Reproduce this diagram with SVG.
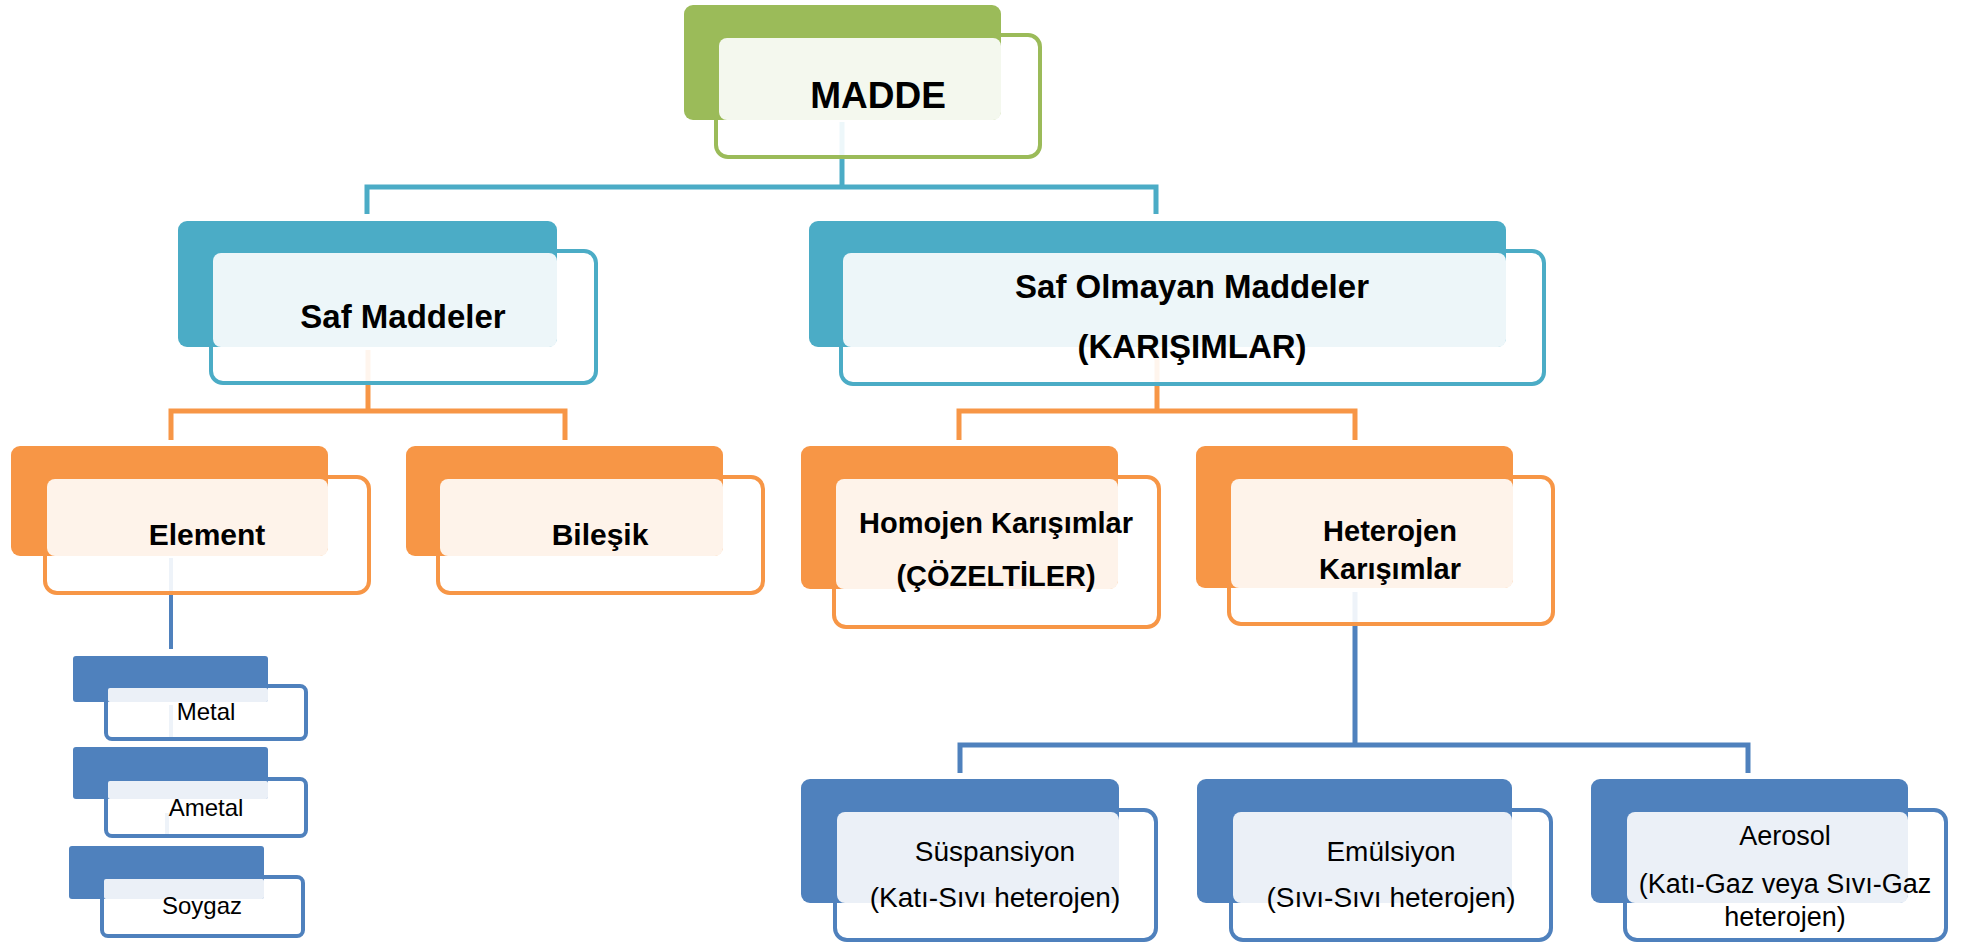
<svg xmlns="http://www.w3.org/2000/svg" width="1961" height="948" viewBox="0 0 1961 948">
<style>
.bg{fill:#ffffff}
.front{fill:#ffffff;fill-opacity:0.9;stroke-width:4}
.g .back{fill:#9bbb59}.g .front{stroke:#9bbb59}.g .tint{fill:#f4f8ee}
.t .back{fill:#4bacc6}.t .front{stroke:#4bacc6}.t .tint{fill:#edf6f9}
.o .back{fill:#f79646}.o .front{stroke:#f79646}.o .tint{fill:#fef3ea}
.b .back{fill:#4f81bd}.b .front{stroke:#4f81bd}.b .tint{fill:#ebf0f7}
.lbl{font-family:"Liberation Sans",Arial,sans-serif;font-weight:bold;fill:#000;text-anchor:middle}
.lbn{font-family:"Liberation Sans",Arial,sans-serif;fill:#000;text-anchor:middle}
.ct{stroke:#4bacc6;stroke-width:5;fill:none}
.co{stroke:#f79646;stroke-width:5;fill:none}
.cb{stroke:#4f81bd;stroke-width:5;fill:none}
.cb4{stroke:#4f81bd;stroke-width:4;fill:none}
</style>
<rect class="bg" x="0" y="0" width="1961" height="948"/>
<g id="connectors">
<polyline class="ct" points="842,122 842,187"/>
<polyline class="ct" points="367,214 367,187 1156,187 1156,214"/>
<polyline class="co" points="368,350 368,411"/>
<polyline class="co" points="171,440 171,411 565,411 565,440"/>
<polyline class="co" points="1157,350 1157,411"/>
<polyline class="co" points="959,440 959,411 1355,411 1355,440"/>
<polyline class="cb" points="1355,592 1355,745"/>
<polyline class="cb" points="960,773 960,745 1748,745 1748,773"/>
<polyline class="cb4" points="171,558 171,649"/>
<polyline class="cb4" points="171,705 171,741"/>
<polyline class="cb4" points="167,813 167,838"/>
</g>
<g id="madde" class="g">
<rect class="front" x="716" y="35" width="324" height="122" rx="12"/>
<rect class="back" x="684" y="5" width="317" height="115" rx="9"/>
<rect class="tint" x="719" y="38" width="282" height="82" rx="8"/>
<text class="lbl" x="878" y="108" font-size="37">MADDE</text>
</g>
<g id="saf-maddeler" class="t">
<rect class="front" x="211" y="251" width="385" height="132" rx="12"/>
<rect class="back" x="178" y="221" width="379" height="126" rx="9"/>
<rect class="tint" x="213" y="253" width="344" height="94" rx="8"/>
<text class="lbl" x="403" y="328" font-size="33">Saf Maddeler</text>
</g>
<g id="saf-olmayan" class="t">
<rect class="front" x="841" y="251" width="703" height="133" rx="12"/>
<rect class="back" x="809" y="221" width="697" height="126" rx="9"/>
<rect class="tint" x="843" y="253" width="663" height="94" rx="8"/>
<text class="lbl" x="1192" y="298" font-size="33">Saf Olmayan Maddeler</text>
<text class="lbl" x="1192" y="358" font-size="33">(KARIŞIMLAR)</text>
</g>
<g id="element" class="o">
<rect class="front" x="45" y="477" width="324" height="116" rx="12"/>
<rect class="back" x="11" y="446" width="317" height="110" rx="9"/>
<rect class="tint" x="47" y="479" width="281" height="77" rx="8"/>
<text class="lbl" x="207" y="545" font-size="30">Element</text>
</g>
<g id="bilesik" class="o">
<rect class="front" x="438" y="477" width="325" height="116" rx="12"/>
<rect class="back" x="406" y="446" width="317" height="110" rx="9"/>
<rect class="tint" x="440" y="479" width="283" height="77" rx="8"/>
<text class="lbl" x="600" y="545" font-size="30">Bileşik</text>
</g>
<g id="homojen" class="o">
<rect class="front" x="834" y="477" width="325" height="150" rx="12"/>
<rect class="back" x="801" y="446" width="317" height="143" rx="9"/>
<rect class="tint" x="836" y="479" width="282" height="110" rx="8"/>
<text class="lbl" x="996" y="533" font-size="29">Homojen Karışımlar</text>
<text class="lbl" x="996" y="586" font-size="29">(ÇÖZELTİLER)</text>
</g>
<g id="heterojen" class="o">
<rect class="front" x="1229" y="477" width="324" height="147" rx="12"/>
<rect class="back" x="1196" y="446" width="317" height="142" rx="9"/>
<rect class="tint" x="1231" y="479" width="282" height="109" rx="8"/>
<text class="lbl" x="1390" y="541" font-size="29">Heterojen</text>
<text class="lbl" x="1390" y="579" font-size="29">Karışımlar</text>
</g>
<g id="metal" class="b">
<rect class="front" x="106" y="686" width="200" height="53" rx="6"/>
<rect class="back" x="73" y="656" width="195" height="46" rx="3"/>
<rect class="tint" x="108" y="688" width="160" height="14" rx="2"/>
<text class="lbn" x="206" y="720" font-size="24">Metal</text>
</g>
<g id="ametal" class="b">
<rect class="front" x="106" y="779" width="200" height="57" rx="6"/>
<rect class="back" x="73" y="747" width="195" height="52" rx="3"/>
<rect class="tint" x="108" y="781" width="160" height="18" rx="2"/>
<text class="lbn" x="206" y="816" font-size="24">Ametal</text>
</g>
<g id="soygaz" class="b">
<rect class="front" x="102" y="877" width="201" height="59" rx="6"/>
<rect class="back" x="69" y="846" width="195" height="53" rx="3"/>
<rect class="tint" x="104" y="879" width="160" height="20" rx="2"/>
<text class="lbn" x="202" y="914" font-size="24">Soygaz</text>
</g>
<g id="suspansiyon" class="b">
<rect class="front" x="835" y="810" width="321" height="130" rx="12"/>
<rect class="back" x="801" y="779" width="318" height="124" rx="9"/>
<rect class="tint" x="837" y="812" width="282" height="91" rx="8"/>
<text class="lbn" x="995" y="861" font-size="28">Süspansiyon</text>
<text class="lbn" x="995" y="907" font-size="28">(Katı-Sıvı heterojen)</text>
</g>
<g id="emulsiyon" class="b">
<rect class="front" x="1231" y="810" width="320" height="130" rx="12"/>
<rect class="back" x="1197" y="779" width="315" height="124" rx="9"/>
<rect class="tint" x="1233" y="812" width="279" height="91" rx="8"/>
<text class="lbn" x="1391" y="861" font-size="28">Emülsiyon</text>
<text class="lbn" x="1391" y="907" font-size="28">(Sıvı-Sıvı heterojen)</text>
</g>
<g id="aerosol" class="b">
<rect class="front" x="1625" y="810" width="321" height="130" rx="12"/>
<rect class="back" x="1591" y="779" width="317" height="124" rx="9"/>
<rect class="tint" x="1627" y="812" width="281" height="91" rx="8"/>
<text class="lbn" x="1785" y="845" font-size="27">Aerosol</text>
<text class="lbn" x="1785" y="893" font-size="27">(Katı-Gaz veya Sıvı-Gaz</text>
<text class="lbn" x="1785" y="926" font-size="27">heterojen)</text>
</g>
</svg>
